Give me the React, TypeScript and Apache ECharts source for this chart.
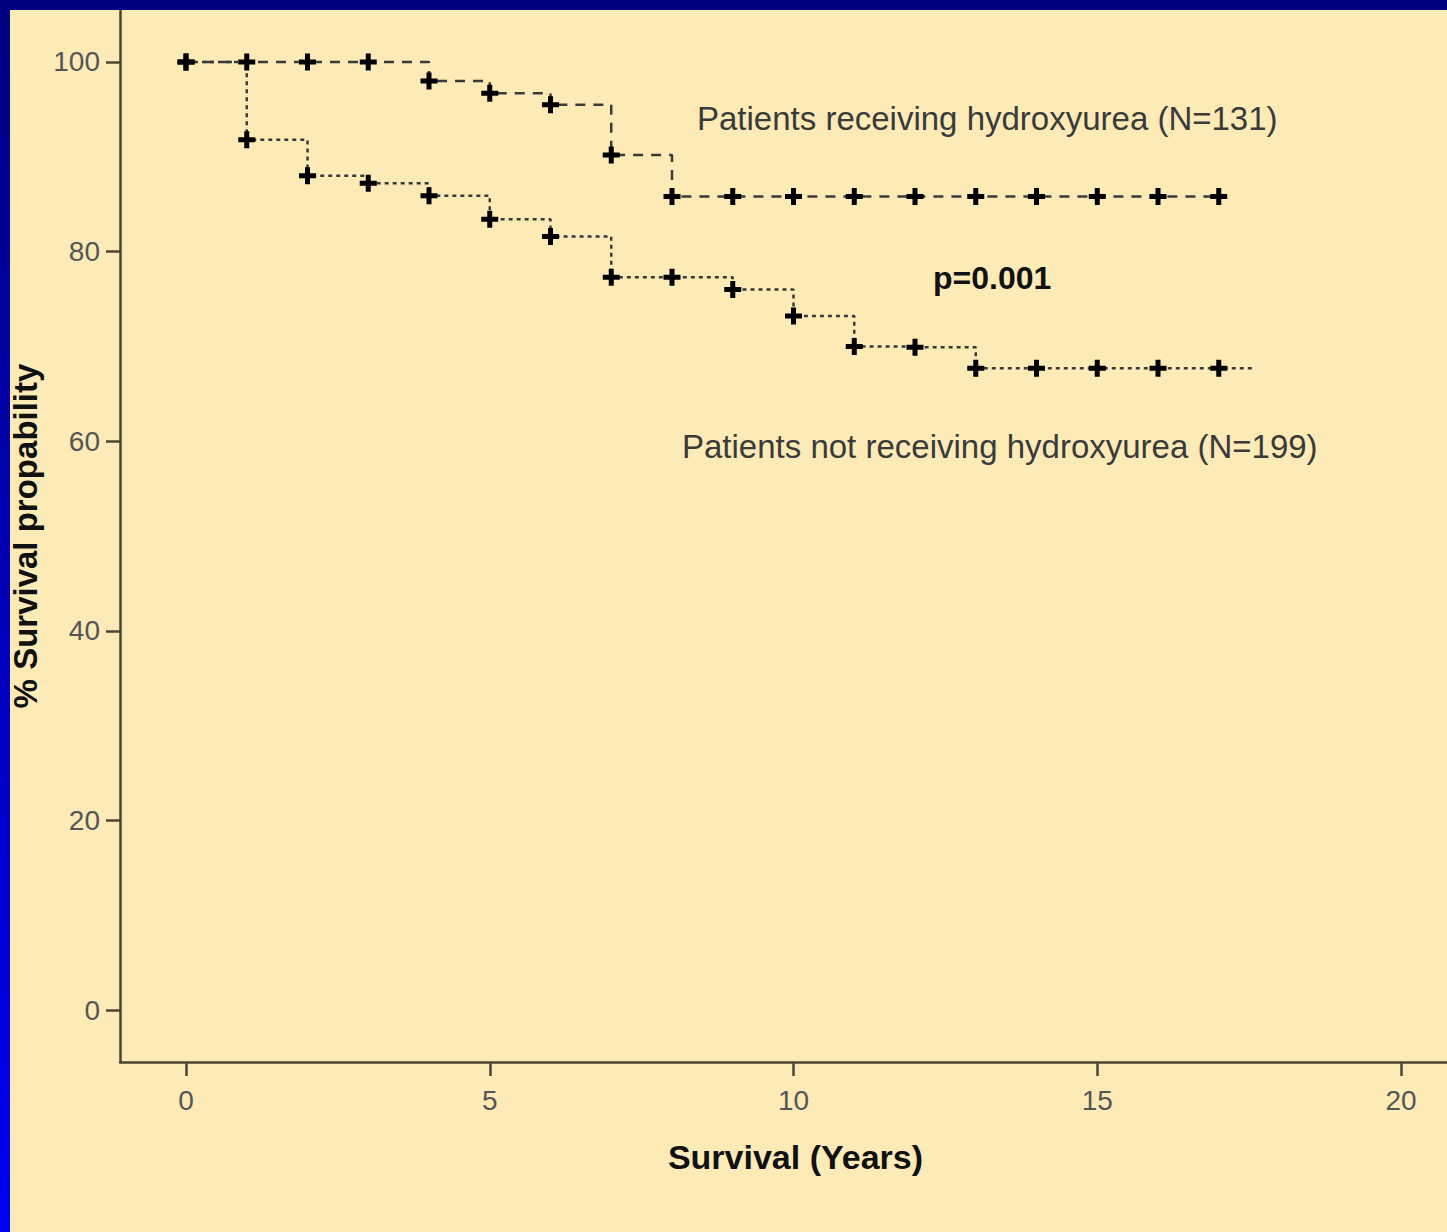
import React, { useEffect, useRef } from "react";
import * as echarts from "echarts";

// Kaplan-Meier style survival data (years, % survival)
const yearsHU = [0, 1, 2, 3, 4, 5, 6, 7, 8, 9, 10, 11, 12, 13, 14, 15, 16, 17];
const survivalHU = [100, 100, 100, 100, 98.0, 96.7, 95.5, 90.2, 85.8, 85.8, 85.8, 85.8, 85.8, 85.8, 85.8, 85.8, 85.8, 85.8];

const yearsNoHU = [0, 1, 2, 3, 4, 5, 6, 7, 8, 9, 10, 11, 12, 13, 14, 15, 16, 17];
const survivalNoHU = [100, 91.8, 88.0, 87.2, 85.9, 83.4, 81.6, 77.3, 77.3, 76.0, 73.2, 70.0, 69.9, 67.7, 67.7, 67.7, 67.7, 67.7];
const noHUEndYear = 17.56; // line continues past last censor mark

const xTicks = [0, 5, 10, 15, 20];
const yTicks = [0, 20, 40, 60, 80, 100];

const xAxisTitle = "Survival (Years)";
const yAxisTitle = "% Survival propability";
const labelHU = "Patients receiving hydroxyurea (N=131)";
const labelNoHU = "Patients not receiving hydroxyurea (N=199)";
const pValueLabel = "p=0.001";

const CROSS = "path://M0,6H17V11H0Z M6,0H11V17H6Z";

export default function App() {
  const ref = useRef<HTMLDivElement>(null);

  useEffect(() => {
    if (!ref.current) return;
    const chart = echarts.init(ref.current, null, { renderer: "svg" });

    const huData: any[] = yearsHU.map((x, i) => [x, survivalHU[i]]);
    const noHuData: any[] = yearsNoHU.map((x, i) => [x, survivalNoHU[i]]);
    noHuData.push({ value: [noHUEndYear, survivalNoHU[survivalNoHU.length - 1]], symbol: "none" });

    const font = "'Liberation Sans', Arial, sans-serif";

    chart.setOption({
      animation: false,
      backgroundColor: "#FDEBB7",
      grid: { left: 120, right: 0, top: 10, bottom: 170, containLabel: false },
      xAxis: {
        type: "value",
        min: -1.0864,
        max: 20.757,
        splitLine: { show: false },
        axisLine: { show: true, onZero: false, lineStyle: { color: "#4a4536", width: 2.5 } },
        axisTick: { show: true, length: 14, customValues: xTicks, lineStyle: { color: "#4a4536", width: 2.5 } },
        axisLabel: { customValues: xTicks, margin: 24, color: "#555", fontSize: 28, fontFamily: font },
        name: xAxisTitle,
        nameLocation: "middle",
        nameGap: 78,
        nameTextStyle: { fontSize: 34, fontWeight: "bold", color: "#111", fontFamily: font, padding: [0, 0, 0, 24] },
      },
      yAxis: {
        type: "value",
        min: -5.485,
        max: 105.485,
        splitLine: { show: false },
        axisLine: { show: true, onZero: false, lineStyle: { color: "#4a4536", width: 2.5 } },
        axisTick: { show: true, length: 14, customValues: yTicks, lineStyle: { color: "#4a4536", width: 2.5 } },
        axisLabel: { customValues: yTicks, margin: 20, color: "#555", fontSize: 28, fontFamily: font },
        name: yAxisTitle,
        nameLocation: "middle",
        nameGap: 77,
        nameTextStyle: { fontSize: 33, fontWeight: "bold", color: "#111", fontFamily: font },
      },
      series: [
        {
          type: "line",
          name: labelHU,
          step: "end",
          data: huData,
          symbol: CROSS,
          symbolSize: 17,
          showAllSymbol: true,
          itemStyle: { color: "#000" },
          lineStyle: { color: "#3a3a3a", width: 2.5, type: [10, 8] },
          z: 3,
        },
        {
          type: "line",
          name: labelNoHU,
          step: "end",
          data: noHuData,
          symbol: CROSS,
          symbolSize: 17,
          showAllSymbol: true,
          itemStyle: { color: "#000" },
          lineStyle: { color: "#3a3a3a", width: 2.5, type: [4, 4] },
          z: 3,
        },
      ],
      graphic: [
        { type: "rect", shape: { x: 0, y: 0, width: 1447, height: 10 }, style: { fill: "#000080" }, z: 10 },
        {
          type: "rect",
          shape: { x: 0, y: 0, width: 10, height: 1232 },
          style: {
            fill: new echarts.graphic.LinearGradient(0, 0, 0, 1, [
              { offset: 0, color: "#000080" },
              { offset: 1, color: "#0000F5" },
            ]),
          },
          z: 10,
        },
        {
          type: "text",
          x: 697,
          y: 118,
          style: { text: labelHU, fontSize: 33, fontFamily: font, fill: "#3a3a3a", verticalAlign: "middle", align: "left" },
        },
        {
          type: "text",
          x: 682,
          y: 446,
          style: { text: labelNoHU, fontSize: 33, fontFamily: font, fill: "#3a3a3a", verticalAlign: "middle", align: "left" },
        },
        {
          type: "text",
          x: 933,
          y: 278,
          style: { text: pValueLabel, fontSize: 32, fontWeight: "bold", fontFamily: font, fill: "#111", verticalAlign: "middle", align: "left" },
        },
      ],
    });

    return () => chart.dispose();
  }, []);

  return <div ref={ref} style={{ position: "absolute", left: 0, top: 0, width: 1447, height: 1232 }} />;
}
